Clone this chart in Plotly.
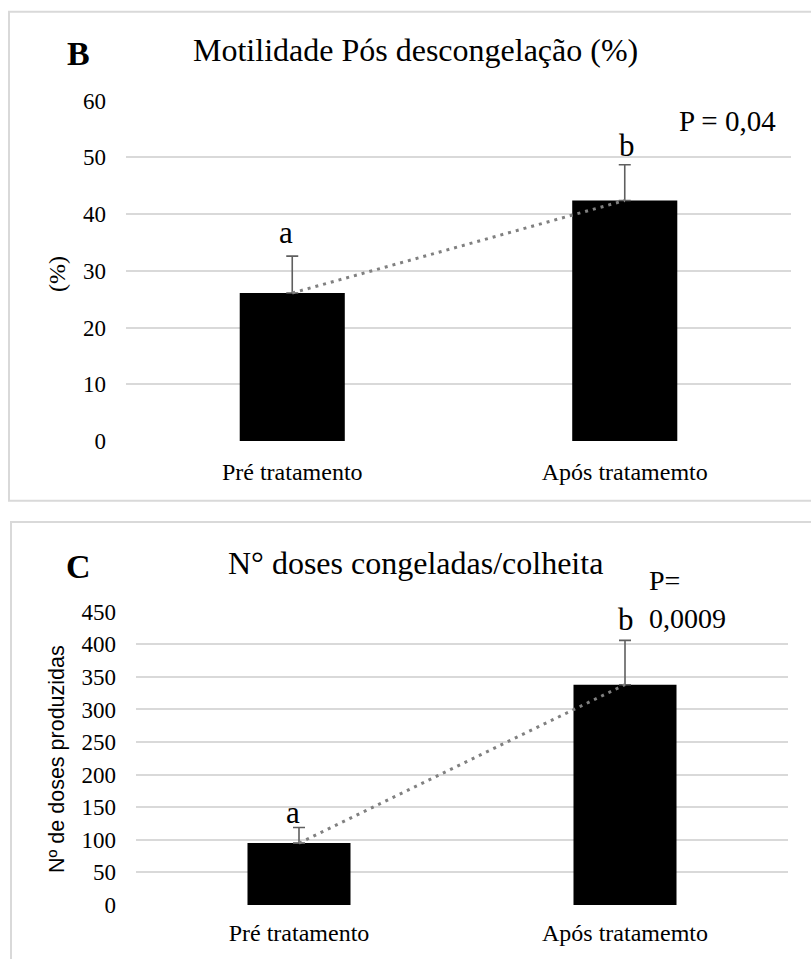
import plotly.graph_objects as go

# ---- data ----
categories = ["Pré tratamento", "Após tratamemto"]
motilidade = [26.1, 42.4]
motilidade_err = [6.5, 6.3]
doses = [95, 338]
doses_err = [24, 68]
letters = ["a", "b"]

W, H = 811, 959
SERIF = "Liberation Serif"
SANS = "Liberation Sans"
GRID = "#d9d9d9"


def px(x):
    return x / W


def py(y):
    return 1 - y / H


fig = go.Figure()

# top panel
fig.add_trace(go.Bar(
    x=categories, y=motilidade, width=0.316, marker=dict(color="black", line=dict(width=0)),
    error_y=dict(type="data", array=motilidade_err, arrayminus=[0, 0], symmetric=False,
                 color="#5f5f5f", thickness=1.6, width=6),
    xaxis="x", yaxis="y", showlegend=False))
fig.add_trace(go.Scatter(
    x=categories, y=motilidade, mode="lines",
    line=dict(color="#808080", width=3, dash="3px,5px"),
    xaxis="x", yaxis="y", showlegend=False))

# bottom panel
fig.add_trace(go.Bar(
    x=categories, y=doses, width=0.316, marker=dict(color="black", line=dict(width=0)),
    error_y=dict(type="data", array=doses_err, arrayminus=[0, 0], symmetric=False,
                 color="#5f5f5f", thickness=1.6, width=6),
    xaxis="x2", yaxis="y2", showlegend=False))
fig.add_trace(go.Scatter(
    x=categories, y=doses, mode="lines",
    line=dict(color="#808080", width=3, dash="3px,5px"),
    xaxis="x2", yaxis="y2", showlegend=False))

ytickfont = dict(family=SERIF, size=23, color="black")
xtickfont = dict(family=SERIF, size=24, color="black")

fig.update_layout(
    width=W, height=H,
    margin=dict(l=0, r=0, t=0, b=0),
    paper_bgcolor="white", plot_bgcolor="white",
    xaxis=dict(domain=[px(126), px(791)], anchor="y", showgrid=False, showline=False,
               ticks="", tickfont=xtickfont, ticklabelstandoff=14, fixedrange=True,
               automargin=False),
    yaxis=dict(domain=[py(441), py(100.7)], anchor="x", range=[0, 60], dtick=10,
               showgrid=True, gridcolor=GRID, gridwidth=1.5, zeroline=False, showline=False,
               ticks="", tickfont=ytickfont, ticklabelstandoff=19, automargin=False),
    xaxis2=dict(domain=[px(136), px(788)], anchor="y2", showgrid=False, showline=False,
                ticks="", tickfont=xtickfont, ticklabelstandoff=11, automargin=False),
    yaxis2=dict(domain=[py(905), py(611.7)], anchor="x2", range=[0, 450], dtick=50,
                showgrid=True, gridcolor=GRID, gridwidth=1.5, zeroline=False, showline=False,
                ticks="", tickfont=ytickfont, ticklabelstandoff=19, automargin=False),
)

# panel borders
fig.add_shape(type="rect", xref="paper", yref="paper",
              x0=px(9), x1=px(830), y0=py(500.7), y1=py(11.7),
              line=dict(color=GRID, width=2), fillcolor="rgba(0,0,0,0)", layer="below")
fig.add_shape(type="rect", xref="paper", yref="paper",
              x0=px(11), x1=px(830), y0=py(990), y1=py(522),
              line=dict(color=GRID, width=2), fillcolor="rgba(0,0,0,0)", layer="below")


def note(text, x, y, size, family=SERIF, xanchor="center", angle=0):
    return dict(text=text, x=px(x), y=py(y), xref="paper", yref="paper",
                xanchor=xanchor, yanchor="middle", textangle=angle, showarrow=False,
                font=dict(family=family, size=size, color="black"))


ann = [
    note("<b>B</b>", 78, 53, 34),
    note("Motilidade Pós descongelação (%)", 415, 50, 32),
    note("<b>C</b>", 78, 566, 34),
    note("N° doses congeladas/colheita", 415, 563, 32),
    note("P = 0,04", 727, 121, 29),
    note("P=", 647, 580, 28, xanchor="left"),
    note("0,0009", 647, 618, 28, xanchor="left"),
    note("(%)", 57, 274, 24, angle=-90),
    note("Nº de doses produzidas", 57, 759, 21.5, family=SANS, angle=-90),
]

# significance letters above error bars
for i, (c, l) in enumerate(zip(categories, letters)):
    ann.append(dict(text=l, x=c, y=motilidade[i] + motilidade_err[i], xref="x", yref="y",
                    xanchor="center", yanchor="middle",
                    yshift=24 if i == 0 else 19, xshift=-6 if i == 0 else 2,
                    showarrow=False, font=dict(family=SERIF, size=31, color="black")))
    ann.append(dict(text=l, x=c, y=doses[i] + doses_err[i], xref="x2", yref="y2",
                    xanchor="center", yanchor="middle",
                    yshift=15 if i == 0 else 21, xshift=-6 if i == 0 else 1,
                    showarrow=False, font=dict(family=SERIF, size=31, color="black")))

fig.update_layout(annotations=ann)

fig.write_html(
    "out.html",
    config={"displayModeBar": False},
    post_script="document.body.style.margin='0';document.body.style.overflow='hidden';",
)
